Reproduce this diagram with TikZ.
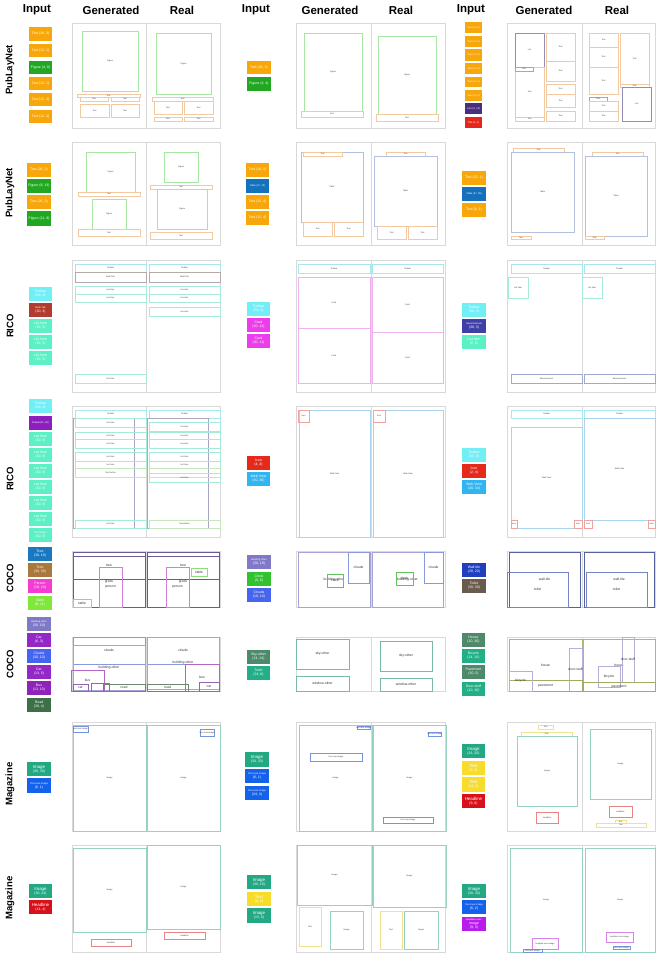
\documentclass[tikz,border=0pt]{standalone}
\usepackage{fontspec}
\setmainfont{Liberation Sans}
\definecolor{cellgray}{HTML}{D9D9D9}
% chip colours
\definecolor{kText}{HTML}{F7A70A}
\definecolor{kFig}{HTML}{22A722}
\definecolor{kTable}{HTML}{1571BC}
\definecolor{kList}{HTML}{4B2D7F}
\definecolor{kTitle}{HTML}{E8251B}
\definecolor{kToolbar}{HTML}{72EEF7}
\definecolor{kMulti}{HTML}{B23A2E}
\definecolor{kLItem}{HTML}{5BF0C5}
\definecolor{kCard}{HTML}{EC3CEC}
\definecolor{kAd}{HTML}{3F40A5}
\definecolor{kIcon}{HTML}{E52A1C}
\definecolor{kWeb}{HTML}{2FB5F2}
\definecolor{kDrawer}{HTML}{8E1FBF}
\definecolor{kTreeA}{HTML}{1978C0}
\definecolor{kTreeB}{HTML}{A8783C}
\definecolor{kPerson}{HTML}{F23CD2}
\definecolor{kCTable}{HTML}{7FE83A}
\definecolor{kBuild}{HTML}{7F79C8}
\definecolor{kCar}{HTML}{9428C7}
\definecolor{kClouds}{HTML}{4565F0}
\definecolor{kBus}{HTML}{8E24B8}
\definecolor{kRoad}{HTML}{3E7048}
\definecolor{kClock}{HTML}{32C12F}
\definecolor{kWall}{HTML}{1F3FBE}
\definecolor{kToiletA}{HTML}{6B5A4E}
\definecolor{kSky}{HTML}{4D8A6C}
\definecolor{kToiletB}{HTML}{22AE86}
\definecolor{kHouse}{HTML}{4E8A6A}
\definecolor{kImage}{HTML}{22A882}
\definecolor{kTOI}{HTML}{1462EC}
\definecolor{kMText}{HTML}{F8DC2C}
\definecolor{kHead}{HTML}{D8101A}
\definecolor{kHOI}{HTML}{B81CEC}
% layout line colours
\definecolor{lText}{HTML}{F3C9A2}
\definecolor{lFig}{HTML}{A6E6A0}
\definecolor{lTable}{HTML}{B4C0E0}
\definecolor{lList}{HTML}{958CB5}
\definecolor{lTitle}{HTML}{E88C8C}
\definecolor{lToolbar}{HTML}{A8E6F0}
\definecolor{lMulti}{HTML}{B5A9A9}
\definecolor{lLItem}{HTML}{A6EADA}
\definecolor{lCard}{HTML}{EEB2EE}
\definecolor{lAd}{HTML}{A0A8D0}
\definecolor{lIcon}{HTML}{EFA2A2}
\definecolor{lWeb}{HTML}{A9D6EE}
\definecolor{lDrawer}{HTML}{A8A6C6}
\definecolor{lTB}{HTML}{C6E6BE}
\definecolor{lTree}{HTML}{6A5A9A}
\definecolor{lPerson}{HTML}{D37ED8}
\definecolor{lCTable}{HTML}{8EDC7E}
\definecolor{lBuild}{HTML}{A6A4D6}
\definecolor{lClouds}{HTML}{8A98E0}
\definecolor{lClock}{HTML}{62C262}
\definecolor{lWall}{HTML}{5462A0}
\definecolor{lToilet}{HTML}{7484C4}
\definecolor{lSky}{HTML}{78BCA0}
\definecolor{lHouse}{HTML}{B4B474}
\definecolor{lDoor}{HTML}{B6AED4}
\definecolor{lPave}{HTML}{A4AC64}
\definecolor{lBike}{HTML}{B2B2D8}
\definecolor{lBus}{HTML}{B464C4}
\definecolor{lCar}{HTML}{9464B4}
\definecolor{lRoad}{HTML}{6A8A6A}
\definecolor{lImage}{HTML}{96D2C4}
\definecolor{lTOI}{HTML}{7494E2}
\definecolor{lMText}{HTML}{F2E08A}
\definecolor{lHead}{HTML}{E88484}
\definecolor{lHOI}{HTML}{D684E8}
\newcommand\fA{\fontsize{3.5}{4.1}\selectfont}
\newcommand\fB{\fontsize{2.5}{3.0}\selectfont}
\newcommand\fM{\fontsize{4.4}{5.0}\selectfont}
\newcommand\fL{\fontsize{2.1}{2.5}\selectfont}
\newcommand\fC{\fontsize{3.4}{4.0}\selectfont}
\newcounter{nn}
\tikzset{
  cellbox/.style={draw=cellgray, line width=0.7pt},
  chipst/.style={fill=#1, draw=none, text=white, font=\fA, align=center, inner sep=0pt, outer sep=0pt},
  laybox/.style={draw=#1, line width=0.6pt, inner sep=0pt, outer sep=0pt},
  lbl/.style={font=\fL, text=black!75, inner sep=0pt},
  clbl/.style={font=\fC, text=black!80, inner sep=0pt},
  hdr/.style={font=\bfseries\fontsize{11.5}{13}\selectfont},
  rowlab/.style={font=\bfseries\fontsize{9.5}{11}\selectfont, rotate=90},
}
\newcommand\chip[6]{\stepcounter{nn}\node[chipst=#1, minimum width={(#4-#2)*1pt}, minimum height={(#5-#3)*1pt}] (c\arabic{nn}) at ({(#2+#4)/2},{(#3+#5)/2}) {#6};}
\newcommand\lb[6]{\stepcounter{nn}\node[laybox=#1, minimum width={(#4-#2)*1pt}, minimum height={(#5-#3)*1pt}] (l\arabic{nn}) at ({(#2+#4)/2},{(#3+#5)/2}) {};\node[lbl] (t\arabic{nn}) at (l\arabic{nn}.center) {#6};}
\newcommand\cb[6]{\stepcounter{nn}\node[laybox=#1, minimum width={(#4-#2)*1pt}, minimum height={(#5-#3)*1pt}] (l\arabic{nn}) at ({(#2+#4)/2},{(#3+#5)/2}) {};\node[clbl] (t\arabic{nn}) at (l\arabic{nn}.center) {#6};}
\newcommand\cellpair[5]{\draw[cellbox] (#1,#4) rectangle (#3,#5); \draw[cellbox] (#2,#4) -- (#2,#5);}
\begin{document}
\begin{tikzpicture}[x=1pt,y=-1pt]
\useasboundingbox (0,0) rectangle (656,953);
\fill[white] (0,0) rectangle (656,953);
% headers
\node[hdr] (h1) at (37,10) {Input};
\node[hdr] (h2) at (111,10) {Generated};
\node[hdr] (h3) at (182,10) {Real};
\node[hdr] (h4) at (256,10) {Input};
\node[hdr] (h5) at (330,10) {Generated};
\node[hdr] (h6) at (401,10) {Real};
\node[hdr] (h7) at (471,10) {Input};
\node[hdr] (h8) at (544,10) {Generated};
\node[hdr] (h9) at (617,10) {Real};
% row labels
\node[rowlab] (r1) at (10,70) {PubLayNet};
\node[rowlab] (r2) at (10,193) {PubLayNet};
\node[rowlab] (r3) at (10,326) {RICO};
\node[rowlab] (r4) at (10,479) {RICO};
\node[rowlab] (r5) at (10,578) {COCO};
\node[rowlab] (r6) at (10,664) {COCO};
\node[rowlab] (r7) at (10,784) {Magazine};
\node[rowlab] (r8) at (10,898) {Magazine};
% cells
\foreach \ya/\yb in {23/128,142/245,260/392,406/537,551/607,637/691,722/831,845/952}{
  \cellpair{72}{146}{220}{\ya}{\yb}
  \cellpair{296}{371}{445}{\ya}{\yb}
  \cellpair{507}{582}{655}{\ya}{\yb}
}
% ================= Row 1 =================
\chip{kText}{29}{27}{52}{41}{Text (28, 3)}
\chip{kText}{29}{44}{52}{57}{Text (12, 1)}
\chip{kFig}{29}{61}{52}{74}{Figure (4, 9)}
\chip{kText}{29}{77}{52}{90}{Text (12, 1)}
\chip{kText}{29}{93}{52}{106}{Text (12, 4)}
\chip{kText}{29}{110}{52}{123}{Text (12, 4)}
\lb{lFig}{82}{31}{138}{91}{Figure}
\lb{lText}{77}{94}{140}{97}{Text}
\lb{lText}{80}{97}{108}{101}{Text}
\lb{lText}{111}{97}{139}{101}{Text}
\lb{lText}{80}{104}{109}{117}{Text}
\lb{lText}{111}{104}{139}{117}{Text}
\lb{lFig}{156}{33}{211}{94}{Figure}
\lb{lText}{152}{97}{213}{101}{Text}
\lb{lText}{154}{101}{182}{114}{Text}
\lb{lText}{184}{101}{213}{114}{Text}
\lb{lText}{154}{117}{182}{121}{Text}
\lb{lText}{184}{117}{213}{121}{Text}
%
\chip{kText}{247}{61}{271}{74}{Text (28, 3)}
\chip{kFig}{247}{77}{271}{91}{Figure (4, 4)}
\lb{lFig}{304}{33}{362}{111}{Figure}
\lb{lText}{301}{111}{363}{117}{Text}
\lb{lFig}{378}{36}{436}{114}{Figure}
\lb{lText}{376}{114}{438}{121}{Text}
%
\chip{kText}{465}{22}{482}{33}{\fB Text (11, 9)}
\chip{kText}{465}{36}{482}{47}{\fB Text (11, 9)}
\chip{kText}{465}{49}{482}{61}{\fB Text (11, 6)}
\chip{kText}{465}{63}{482}{74}{\fB Text (11, 9)}
\chip{kText}{465}{77}{482}{87}{\fB Text (11, 1)}
\chip{kText}{465}{90}{482}{101}{\fB Text (11, 4)}
\chip{kList}{465}{103}{482}{114}{\fB List (11, 10)}
\chip{kTitle}{465}{117}{482}{128}{\fB Title (6, 1)}
\lb{lList}{515}{33}{544}{67}{List}
\lb{lText}{515}{67}{544}{117}{Text}
\lb{lTitle}{515}{67}{533}{71}{Title}
\lb{lText}{515}{117}{544}{121}{Text}
\lb{lText}{546}{33}{575}{61}{Text}
\lb{lText}{546}{61}{575}{81}{Text}
\lb{lText}{546}{84}{575}{94}{Text}
\lb{lText}{546}{94}{575}{107}{Text}
\lb{lText}{546}{111}{575}{121}{Text}
\lb{lText}{589}{33}{618}{47}{Text}
\lb{lText}{589}{47}{618}{67}{Text}
\lb{lText}{589}{67}{618}{94}{Text}
\lb{lTitle}{589}{97}{607}{101}{Title}
\lb{lText}{589}{101}{618}{111}{Text}
\lb{lText}{589}{111}{618}{121}{Text}
\lb{lText}{620}{33}{649}{84}{Text}
\lb{lText}{620}{84}{649}{87}{Text}
\lb{lList}{622}{87}{651}{121}{List}
% ================= Row 2 =================
\chip{kText}{27}{163}{51}{177}{Text (26, 1)}
\chip{kFig}{27}{179}{51}{193}{Figure (8, 13)}
\chip{kText}{27}{195}{51}{209}{Text (26, 3)}
\chip{kFig}{27}{211}{51}{226}{Figure (11, 9)}
\lb{lFig}{86}{152}{135}{192}{Figure}
\lb{lText}{78}{192}{140}{196}{Text}
\lb{lFig}{92}{199}{126}{229}{Figure}
\lb{lText}{78}{229}{140}{236}{Text}
\lb{lFig}{164}{152}{198}{182}{Figure}
\lb{lText}{150}{185}{212}{189}{Text}
\lb{lFig}{157}{189}{207}{229}{Figure}
\lb{lText}{150}{232}{212}{239}{Text}
%
\chip{kText}{246}{163}{269}{177}{Text (14, 1)}
\chip{kTable}{246}{179}{269}{193}{\fB Table (17, 10)}
\chip{kText}{246}{195}{269}{209}{Text (13, 4)}
\chip{kText}{246}{211}{269}{225}{Text (12, 4)}
\lb{lTable}{301}{152}{363}{222}{Table}
\lb{lText}{303}{152}{342}{156}{Text}
\lb{lText}{303}{222}{332}{236}{Text}
\lb{lText}{334}{222}{363}{236}{Text}
\lb{lText}{386}{152}{425}{156}{Text}
\lb{lTable}{374}{156}{437}{226}{Table}
\lb{lText}{377}{226}{406}{239}{Text}
\lb{lText}{408}{226}{437}{239}{Text}
%
\chip{kText}{462}{171}{486}{185}{Text (22, 1)}
\chip{kTable}{462}{187}{486}{201}{\fB Table (27, 28)}
\chip{kText}{462}{203}{486}{217}{Text (8, 1)}
\lb{lText}{513}{148}{564}{152}{Text}
\lb{lTable}{511}{152}{574}{232}{Table}
\lb{lText}{511}{236}{531}{239}{Text}
\lb{lText}{592}{152}{643}{156}{Text}
\lb{lTable}{585}{156}{647}{236}{Table}
\lb{lText}{585}{236}{604}{239}{Text}
% ================= Row 3 =================
\chip{kToolbar}{29}{287}{52}{301}{Toolbar\\(30, 3)}
\chip{kMulti}{29}{303}{52}{317}{\fB Multi-Tab\\(30, 3)}
\chip{kLItem}{29}{319}{52}{333}{List Item\\(30, 3)}
\chip{kLItem}{29}{335}{52}{349}{List Item\\(30, 3)}
\chip{kLItem}{29}{351}{52}{365}{List Item\\(30, 3)}
\lb{lToolbar}{75}{264}{146}{272}{Toolbar}
\lb{lMulti}{75}{272}{146}{282}{Multi-Tab}
\lb{lLItem}{75}{286}{146}{294}{List Item}
\lb{lLItem}{75}{294}{146}{302}{List Item}
\lb{lLItem}{75}{374}{146}{383}{List Item}
\lb{lToolbar}{149}{264}{220}{272}{Toolbar}
\lb{lMulti}{149}{272}{220}{282}{Multi-Tab}
\lb{lLItem}{149}{286}{220}{294}{List Item}
\lb{lLItem}{149}{294}{220}{302}{List Item}
\lb{lLItem}{149}{307}{220}{316}{List Item}
%
\chip{kToolbar}{247}{302}{270}{316}{Toolbar\\(30, 3)}
\chip{kCard}{247}{318}{270}{332}{Card\\(30, 13)}
\chip{kCard}{247}{334}{270}{348}{Card\\(30, 11)}
\lb{lToolbar}{298}{264}{370}{273}{Toolbar}
\lb{lCard}{298}{277}{370}{328}{Card}
\lb{lCard}{298}{328}{370}{383}{Card}
\lb{lToolbar}{372}{264}{443}{273}{Toolbar}
\lb{lCard}{372}{277}{443}{332}{Card}
\lb{lCard}{372}{332}{443}{383}{Card}
%
\chip{kToolbar}{462}{303}{486}{317}{Toolbar\\(30, 3)}
\chip{kAd}{462}{319}{486}{333}{\fB Advertisement\\(30, 3)}
\chip{kLItem}{462}{335}{486}{349}{List Item\\(6, 6)}
\lb{lToolbar}{511}{264}{582}{273}{Toolbar}
\lb{lLItem}{508}{277}{528}{298}{List Item}
\lb{lAd}{511}{374}{582}{383}{Advertisement}
\lb{lToolbar}{584}{264}{655}{273}{Toolbar}
\lb{lLItem}{582}{277}{602}{298}{List Item}
\lb{lAd}{584}{374}{655}{383}{Advertisement}
% ================= Row 4 =================
\chip{kToolbar}{29}{399}{52}{413}{Toolbar\\(30, 3)}
\chip{kDrawer}{29}{416}{52}{430}{\fB Drawer(21, 40)}
\chip{kLItem}{29}{432}{52}{446}{List Item\\(30, 3)}
\chip{kLItem}{29}{448}{52}{462}{List Item\\(30, 3)}
\chip{kLItem}{29}{464}{52}{478}{List Item\\(30, 3)}
\chip{kLItem}{29}{480}{52}{494}{List Item\\(30, 3)}
\chip{kLItem}{29}{496}{52}{510}{List Item\\(30, 3)}
\chip{kLItem}{29}{512}{52}{526}{List Item\\(30, 3)}
\chip{kLItem}{29}{528}{52}{542}{\fB Text Button\\(30, 3)}
\lb{lToolbar}{75}{410}{146}{418}{Toolbar}
\lb{lDrawer}{73}{418}{134}{528}{}
\lb{lLItem}{75}{418}{146}{427}{List Item}
\lb{lLItem}{75}{432}{146}{439}{List Item}
\lb{lLItem}{75}{439}{146}{448}{List Item}
\lb{lLItem}{75}{452}{146}{461}{List Item}
\lb{lLItem}{75}{461}{146}{468}{List Item}
\lb{lTB}{75}{468}{146}{477}{Text Button}
\lb{lLItem}{75}{520}{146}{528}{List Item}
\lb{lToolbar}{149}{410}{220}{418}{Toolbar}
\lb{lDrawer}{147}{418}{208}{528}{}
\lb{lLItem}{149}{422}{220}{431}{List Item}
\lb{lLItem}{149}{432}{220}{439}{List Item}
\lb{lLItem}{149}{439}{220}{448}{List Item}
\lb{lLItem}{149}{452}{220}{461}{List Item}
\lb{lLItem}{149}{461}{220}{468}{List Item}
\lb{lTB}{149}{468}{220}{477}{}
\lb{lLItem}{149}{473}{220}{482}{List Item}
\lb{lTB}{149}{520}{220}{528}{Text Button}
%
\chip{kIcon}{247}{456}{270}{470}{Icon\\(4, 4)}
\chip{kWeb}{247}{472}{270}{486}{Web View\\(30, 30)}
\lb{lWeb}{299}{410}{370}{537}{Web View}
\lb{lIcon}{298}{410}{309}{422}{Icon}
\lb{lWeb}{373}{410}{443}{537}{Web View}
\lb{lIcon}{373}{410}{385}{422}{Icon}
%
\chip{kToolbar}{462}{448}{486}{462}{Toolbar\\(30, 3)}
\chip{kIcon}{462}{464}{486}{478}{Icon\\(2, 4)}
\chip{kWeb}{462}{480}{486}{494}{Web View\\(30, 34)}
\lb{lToolbar}{511}{410}{582}{418}{Toolbar}
\lb{lWeb}{511}{427}{582}{528}{Web View}
\lb{lIcon}{511}{520}{517}{528}{Icon}
\lb{lIcon}{574}{520}{582}{528}{Icon}
\lb{lToolbar}{584}{410}{655}{418}{Toolbar}
\lb{lWeb}{584}{418}{655}{520}{Web View}
\lb{lIcon}{584}{520}{592}{528}{Icon}
\lb{lIcon}{648}{520}{655}{528}{Icon}
% ================= Row 5 =================
\chip{kTreeA}{28}{547}{52}{561}{Tree\\(30, 19)}
\chip{kTreeB}{28}{563}{52}{577}{Tree\\(30, 30)}
\chip{kPerson}{28}{579}{52}{593}{Person\\(10, 24)}
\chip{kCTable}{28}{596}{52}{610}{Table\\(8, 11)}
\cb{lTree}{73}{552}{145}{579}{tree}
\cb{lTree}{73}{556}{145}{607}{grass}
\cb{lPerson}{99}{567}{122}{607}{person}
\cb{lCTable}{73}{599}{91}{607}{table}
\cb{lTree}{147}{552}{219}{579}{tree}
\cb{lTree}{147}{556}{219}{607}{grass}
\cb{lPerson}{166}{567}{189}{607}{person}
\cb{lCTable}{191}{568}{207}{576}{table}
%
\chip{kBuild}{247}{555}{271}{569}{\fB Building-other\\(30, 19)}
\chip{kClock}{247}{572}{271}{586}{Clock\\(9, 6)}
\chip{kClouds}{247}{588}{271}{602}{Clouds\\(10, 10)}
\cb{lBuild}{298}{552}{370}{607}{building-other}
\cb{lClouds}{348}{552}{369}{583}{clouds}
\cb{lClock}{327}{574}{343}{587}{clock}
\cb{lBuild}{372}{552}{443}{607}{building-other}
\cb{lClouds}{424}{552}{443}{583}{clouds}
\cb{lClock}{396}{572}{413}{585}{clock}
%
\chip{kWall}{462}{563}{486}{577}{Wall-tile\\(28, 20)}
\chip{kToiletA}{462}{579}{486}{593}{Toilet\\(30, 30)}
\cb{lWall}{509}{552}{580}{607}{wall-tile}
\cb{lToilet}{507}{572}{568}{607}{toilet}
\cb{lWall}{584}{552}{654}{607}{wall-tile}
\cb{lToilet}{586}{572}{647}{607}{toilet}
% ================= Row 6 =================
\chip{kBuild}{27}{617}{51}{631}{\fB Building-other\\(30, 19)}
\chip{kCar}{27}{633}{51}{647}{Car\\(6, 3)}
\chip{kClouds}{27}{649}{51}{663}{Clouds\\(30, 10)}
\chip{kCar}{27}{665}{51}{679}{Car\\(13, 5)}
\chip{kBus}{27}{681}{51}{695}{Bus\\(13, 10)}
\chip{kRoad}{27}{698}{51}{712}{Road\\(30, 4)}
\cb{lClouds}{73}{637}{145}{664}{clouds}
\cb{lBuild}{73}{645}{145}{690}{building-other}
\cb{lBus}{71}{670}{104}{691}{bus}
\cb{lCar}{73}{684}{88}{691}{car}
\cb{lCar}{91}{683}{109}{691}{}
\cb{lRoad}{103}{684}{145}{691}{road}
\cb{lClouds}{147}{637}{219}{664}{clouds}
\cb{lBuild}{147}{637}{219}{689}{building-other}
\cb{lBus}{185}{664}{219}{691}{bus}
\cb{lRoad}{147}{684}{188}{691}{road}
\cb{lCar}{199}{682}{219}{691}{car}
%
\chip{kSky}{247}{650}{270}{664}{Sky-other\\(24, 14)}
\chip{kToiletB}{247}{666}{270}{680}{Toilet\\(24, 8)}
\cb{lSky}{296}{639}{349}{669}{sky-other}
\cb{lSky}{296}{676}{349}{691}{window-other}
\cb{lSky}{380}{641}{432}{671}{sky-other}
\cb{lSky}{380}{678}{432}{691}{window-other}
%
\chip{kHouse}{462}{633}{485}{647}{House\\(30, 30)}
\chip{kToiletB}{462}{649}{485}{663}{Bicycle\\(14, 10)}
\chip{kHouse}{462}{665}{485}{679}{Pavement\\(30, 5)}
\chip{kToiletB}{462}{682}{485}{696}{Door-stuff\\(10, 16)}
\cb{lHouse}{509}{639}{582}{691}{house}
\cb{lDoor}{569}{648}{582}{691}{door-stuff}
\cb{lPave}{509}{680}{582}{691}{pavement}
\cb{lBike}{509}{671}{532}{691}{bicycle}
\cb{lHouse}{583}{639}{655}{691}{house}
\cb{lDoor}{622}{637}{634}{682}{door-stuff}
\cb{lBike}{598}{666}{620}{687}{bicycle}
\cb{lPave}{583}{682}{655}{691}{pavement}
% ================= Row 7 =================
\chip{kImage}{27}{762}{51}{776}{\fM Image\\(30, 30)}
\chip{kTOI}{27}{778}{51}{793}{\fB Text-over-image\\(6, 1)}
\lb{lImage}{73}{725}{146}{831}{Image}
\lb{lTOI}{73}{726}{88}{732}{text-over-image}
\lb{lImage}{147}{725}{220}{831}{Image}
\lb{lTOI}{200}{729}{214}{736}{text-over-image}
%
\chip{kImage}{245}{752}{269}{767}{\fM Image\\(30, 30)}
\chip{kTOI}{245}{769}{269}{783}{\fB Text-over-image\\(6, 1)}
\chip{kTOI}{245}{786}{269}{800}{\fB Text-over-image\\(24, 4)}
\lb{lImage}{299}{725}{372}{831}{Image}
\lb{lTOI}{357}{726}{370}{729}{text-over-image}
\lb{lTOI}{310}{753}{362}{761}{text-over-image}
\lb{lImage}{373}{725}{446}{831}{Image}
\lb{lTOI}{428}{732}{441}{736}{text-over-image}
\lb{lTOI}{383}{817}{433}{823}{text-over-image}
%
\chip{kImage}{462}{744}{485}{758}{\fM Image\\(26, 20)}
\chip{kMText}{462}{761}{485}{775}{\fM Text\\(6, 2)}
\chip{kMText}{462}{777}{485}{792}{\fM Text\\(22, 2)}
\chip{kHead}{462}{794}{485}{808}{\fM Headline\\(9, 6)}
\lb{lMText}{538}{725}{553}{729}{Text}
\lb{lMText}{521}{732}{572}{736}{Text}
\lb{lImage}{517}{736}{577}{806}{Image}
\lb{lHead}{536}{812}{558}{823}{Headline}
\lb{lImage}{590}{729}{651}{799}{Image}
\lb{lHead}{609}{806}{632}{817}{Headline}
\lb{lMText}{615}{820}{626}{823}{Text}
\lb{lMText}{596}{823}{646}{827}{Text}
% ================= Row 8 =================
\chip{kImage}{29}{884}{52}{898}{\fM Image\\(30, 24)}
\chip{kHead}{29}{900}{52}{914}{\fM Headline\\(14, 4)}
\lb{lImage}{73}{848}{146}{932}{Image}
\lb{lHead}{91}{939}{131}{946}{Headline}
\lb{lImage}{147}{845}{220}{929}{Image}
\lb{lHead}{164}{932}{205}{939}{Headline}
%
\chip{kImage}{247}{875}{271}{889}{\fM Image\\(30, 18)}
\chip{kMText}{247}{892}{271}{906}{\fM Text\\(6, 9)}
\chip{kImage}{247}{908}{271}{923}{\fM Image\\(15, 8)}
\lb{lImage}{297}{845}{372}{905}{Image}
\lb{lMText}{299}{907}{321}{946}{Text}
\lb{lImage}{330}{911}{363}{949}{Image}
\lb{lImage}{373}{845}{446}{907}{Image}
\lb{lMText}{380}{911}{402}{949}{Text}
\lb{lImage}{404}{911}{438}{949}{Image}
%
\chip{kImage}{462}{884}{486}{898}{\fM Image\\(30, 30)}
\chip{kTOI}{462}{900}{486}{914}{\fB Text-over-image\\(6, 2)}
\chip{kHOI}{462}{917}{486}{931}{\fB Headline-over-\\image\\(9, 3)}
\lb{lImage}{510}{848}{582}{952}{Image}
\lb{lHOI}{532}{938}{558}{949}{headline-over-image}
\lb{lTOI}{523}{949}{542}{952}{text-over-image}
\lb{lImage}{585}{848}{655}{952}{Image}
\lb{lHOI}{606}{932}{633}{942}{headline-over-image}
\lb{lTOI}{613}{946}{630}{949}{text-over-image}
\end{tikzpicture}
\end{document}
